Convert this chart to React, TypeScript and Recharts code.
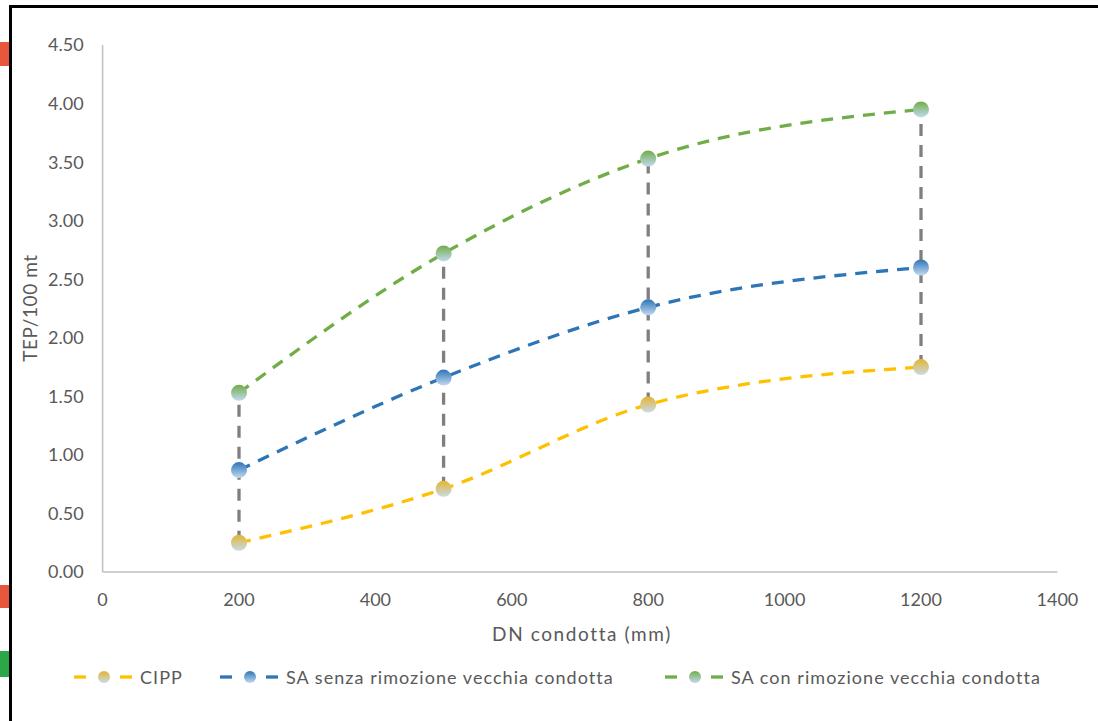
import { LineChart, Line, XAxis, YAxis } from "recharts";

// DN values (mm) and TEP/100 mt per series
const DN = [200, 500, 800, 1200];
const CIPP = [0.25, 0.71, 1.43, 1.75];
const SA_SENZA = [0.87, 1.66, 2.26, 2.6];
const SA_CON = [1.53, 2.72, 3.53, 3.95];

const X_TICKS = [0, 200, 400, 600, 800, 1000, 1200, 1400];
const Y_TICKS = [0, 0.5, 1, 1.5, 2, 2.5, 3, 3.5, 4, 4.5];

const SERIES = [
  { key: "cipp", name: "CIPP", color: "#ffc000", top: "#e3b530", bottom: "#c9dae8", grad: "gCipp" },
  { key: "senza", name: "SA senza rimozione vecchia condotta", color: "#2e75b6", top: "#2e75b6", bottom: "#c3daf0", grad: "gSenza" },
  { key: "con", name: "SA con rimozione vecchia condotta", color: "#70ad47", top: "#70ad47", bottom: "#c3daf0", grad: "gCon" },
];

const rows = DN.map((dn, i) => ({ dn, cipp: CIPP[i], senza: SA_SENZA[i], con: SA_CON[i] }));

// high-low connectors, one per DN
const hiLo = DN.map((dn, i) => {
  const vals = [CIPP[i], SA_SENZA[i], SA_CON[i]];
  return [
    { dn, v: Math.min(...vals) },
    { dn, v: Math.max(...vals) },
  ];
});

const FONT = "Lato, 'Open Sans', sans-serif";
const TEXT = "#595959";

const legendLeft = [74, 220, 665];

function LegendIcon({ s }: { s: (typeof SERIES)[number] }) {
  return (
    <svg width={60} height={14} style={{ display: "block" }}>
      <line x1={0} y1={7} x2={12} y2={7} stroke={s.color} strokeWidth={3.3} />
      <circle cx={30} cy={7} r={6} fill={`url(#${s.grad}L)`} />
      <line x1={46} y1={7} x2={58} y2={7} stroke={s.color} strokeWidth={3.3} />
      <defs>
        <linearGradient id={`${s.grad}L`} x1="0" y1="0" x2="0" y2="1">
          <stop offset="0%" stopColor={s.top} />
          <stop offset="100%" stopColor={s.bottom} />
        </linearGradient>
      </defs>
    </svg>
  );
}

export default function App() {
  return (
    <div
      style={{
        position: "fixed",
        left: 0,
        top: 0,
        width: 1098,
        height: 721,
        background: "#fff",
        fontFamily: FONT,
        overflow: "hidden",
      }}
    >
      {/* screenshot frame and side tabs */}
      <div style={{ position: "absolute", left: 9, top: 5, width: 1089, height: 3, background: "#000" }} />
      <div style={{ position: "absolute", left: 9, top: 5, width: 3, height: 716, background: "#000" }} />
      <div style={{ position: "absolute", left: 0, top: 42, width: 9, height: 24, background: "#e8573b" }} />
      <div style={{ position: "absolute", left: 0, top: 585, width: 9, height: 23, background: "#e8573b" }} />
      <div style={{ position: "absolute", left: 0, top: 651, width: 9, height: 26, background: "#2ba745" }} />

      <div style={{ position: "absolute", left: 0, top: 0 }}>
        <LineChart width={1098} height={721} data={rows} margin={{ top: 45, right: 40.6, bottom: 119, left: 42.6 }}>
          <defs>
            {SERIES.map((s) => (
              <linearGradient key={s.grad} id={s.grad} x1="0" y1="0" x2="0" y2="1">
                <stop offset="0%" stopColor={s.top} />
                <stop offset="100%" stopColor={s.bottom} />
              </linearGradient>
            ))}
          </defs>
          <XAxis
            dataKey="dn"
            type="number"
            domain={[0, 1400]}
            ticks={X_TICKS}
            height={30}
            tickLine={false}
            tickSize={0}
            tickMargin={21}
            axisLine={{ stroke: "#bfbfbf", strokeWidth: 1.5 }}
            tick={{ fontSize: 18, fill: TEXT, fontFamily: FONT }}
          />
          <YAxis
            type="number"
            domain={[0, 4.5]}
            ticks={Y_TICKS}
            width={60}
            tickLine={false}
            tickSize={0}
            tickMargin={19}
            axisLine={{ stroke: "#bfbfbf", strokeWidth: 1.5 }}
            tickFormatter={(v: number) => v.toFixed(2)}
            tick={{ fontSize: 18, fill: TEXT, fontFamily: FONT }}
          />
          {SERIES.map((s) => (
            <Line
              key={s.key}
              type="monotone"
              dataKey={s.key}
              name={s.name}
              stroke={s.color}
              strokeWidth={3.3}
              strokeDasharray="12 9"
              dot={{ r: 8, fill: `url(#${s.grad})`, stroke: "none" }}
              activeDot={false}
              isAnimationActive={false}
            />
          ))}
          {hiLo.map((seg, i) => (
            <Line
              key={`hl-${i}`}
              data={seg}
              dataKey="v"
              type="linear"
              stroke="#7f7f7f"
              strokeWidth={3.3}
              strokeDasharray="12 9"
              dot={false}
              activeDot={false}
              legendType="none"
              isAnimationActive={false}
            />
          ))}
        </LineChart>
      </div>

      {/* axis titles */}
      <div
        style={{
          position: "absolute",
          left: 29,
          top: 308,
          transform: "translate(-50%, -50%) rotate(-90deg)",
          whiteSpace: "nowrap",
          fontSize: 19,
          letterSpacing: 0.6,
          color: TEXT,
        }}
      >
        TEP/100 mt
      </div>
      <div
        style={{
          position: "absolute",
          left: 582,
          top: 633,
          transform: "translate(-50%, -50%)",
          whiteSpace: "nowrap",
          fontSize: 19,
          letterSpacing: 1.6,
          color: TEXT,
        }}
      >
        DN condotta (mm)
      </div>

      {/* legend */}
      {SERIES.map((s, i) => (
        <div
          key={s.key}
          style={{
            position: "absolute",
            left: legendLeft[i],
            top: 677,
            transform: "translateY(-50%)",
            display: "flex",
            alignItems: "center",
            gap: 6,
            whiteSpace: "nowrap",
            fontSize: 18,
            letterSpacing: 1.05,
            color: TEXT,
          }}
        >
          <LegendIcon s={s} />
          <span>{s.name}</span>
        </div>
      ))}
    </div>
  );
}
